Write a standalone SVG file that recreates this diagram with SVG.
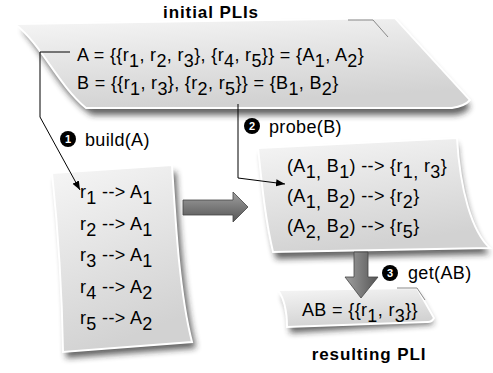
<svg xmlns="http://www.w3.org/2000/svg" width="493" height="373" viewBox="0 0 493 373">
<defs>
<linearGradient id="paper" x1="0" y1="0" x2="0.3" y2="1">
<stop offset="0" stop-color="#f6f6f6"/>
<stop offset="1" stop-color="#d2d2d2"/>
</linearGradient>
<linearGradient id="arrowG" x1="0" y1="0" x2="0" y2="1">
<stop offset="0" stop-color="#a0a0a0"/>
<stop offset="1" stop-color="#555"/>
</linearGradient>
<linearGradient id="arrowV" x1="0" y1="0" x2="1" y2="0">
<stop offset="0" stop-color="#a0a0a0"/>
<stop offset="1" stop-color="#555"/>
</linearGradient>
<filter id="sh" x="-10%" y="-10%" width="120%" height="130%">
<feGaussianBlur stdDeviation="3"/>
</filter>
<marker id="ah" viewBox="0 0 10 10" refX="10" refY="5" markerWidth="9" markerHeight="9" orient="auto" markerUnits="userSpaceOnUse">
<path d="M0,1 L10,5 L0,9 Z" fill="#000"/>
</marker>
</defs>
<style>
.t{font-family:"Liberation Sans",Arial,sans-serif;font-size:18px;letter-spacing:0.35px;fill:#000}
.b{font-family:"Liberation Sans",Arial,sans-serif;font-size:17px;font-weight:bold;letter-spacing:0.9px;fill:#000}
.n{font-family:"Liberation Sans",Arial,sans-serif;font-size:11px;font-weight:bold;fill:#fff}
.paper{fill:url(#paper);stroke:#fff;stroke-width:2}
.shadow{fill:#222;opacity:0.7;filter:url(#sh)}
.con{fill:none;stroke:#000;stroke-width:1}
.fold{fill:none;stroke:#888;stroke-width:1}
</style>

<g id="initial">
<path class="shadow" d="M22,30 L395,24 L470,106 Q468,113 455,115 L92,115 C62,95 45,55 22,30 Z"/>
<path class="paper" d="M15,24 L395,18 L470,100 Q465,106 452,108 L86,108 C58,85 42,45 15,24 Z"/>
<path class="fold" d="M348,20 L373,20 L388,37"/>
<text class="b" x="211" y="18" text-anchor="middle">initial PLIs</text>
<text class="t" x="77" y="61">A = {{r<tspan dy="6">1</tspan><tspan dy="-6">, r</tspan><tspan dy="6">2</tspan><tspan dy="-6">, r</tspan><tspan dy="6">3</tspan><tspan dy="-6">}, {r</tspan><tspan dy="6">4</tspan><tspan dy="-6">, r</tspan><tspan dy="6">5</tspan><tspan dy="-6">}} = {A</tspan><tspan dy="6">1</tspan><tspan dy="-6">, A</tspan><tspan dy="6">2</tspan><tspan dy="-6">}</tspan></text>
<text class="t" x="77" y="89">B = {{r<tspan dy="6">1</tspan><tspan dy="-6">, r</tspan><tspan dy="6">3</tspan><tspan dy="-6">}, {r</tspan><tspan dy="6">2</tspan><tspan dy="-6">, r</tspan><tspan dy="6">5</tspan><tspan dy="-6">}} = {B</tspan><tspan dy="6">1</tspan><tspan dy="-6">, B</tspan><tspan dy="6">2</tspan><tspan dy="-6">}</tspan></text>
</g>

<g id="hash">
<path class="shadow" d="M56,180 L176,172 C180,240 185,300 196,348 L66,358 C66,300 62,240 56,180 Z"/>
<path class="paper" d="M52,173 L172,165 C176,230 180,295 192,342 L63,352 C62,290 58,230 52,173 Z"/>
<text class="t" x="80" y="198">r<tspan dy="6">1</tspan><tspan dy="-6"> --&gt; A</tspan><tspan dy="6">1</tspan></text>
<text class="t" x="80" y="229.5">r<tspan dy="6">2</tspan><tspan dy="-6"> --&gt; A</tspan><tspan dy="6">1</tspan></text>
<text class="t" x="80" y="261">r<tspan dy="6">3</tspan><tspan dy="-6"> --&gt; A</tspan><tspan dy="6">1</tspan></text>
<text class="t" x="80" y="292.5">r<tspan dy="6">4</tspan><tspan dy="-6"> --&gt; A</tspan><tspan dy="6">2</tspan></text>
<text class="t" x="80" y="324">r<tspan dy="6">5</tspan><tspan dy="-6"> --&gt; A</tspan><tspan dy="6">2</tspan></text>
</g>

<g id="probe">
<path class="shadow" d="M262,154 L457,144 C462,200 475,240 490,254 L276,259 C268,225 266,190 262,154 Z"/>
<path class="paper" d="M258,148 L457,138 C460,190 472,232 490,248 L273,252 C265,218 262,185 258,148 Z"/>
<text class="t" x="287" y="172">(A<tspan dy="6">1,</tspan><tspan dy="-6"> B</tspan><tspan dy="6">1</tspan><tspan dy="-6">) --&gt; {r</tspan><tspan dy="6">1, </tspan><tspan dy="-6">r</tspan><tspan dy="6">3</tspan><tspan dy="-6">}</tspan></text>
<text class="t" x="287" y="202">(A<tspan dy="6">1,</tspan><tspan dy="-6"> B</tspan><tspan dy="6">2</tspan><tspan dy="-6">) --&gt; {r</tspan><tspan dy="6">2</tspan><tspan dy="-6">}</tspan></text>
<text class="t" x="287" y="232">(A<tspan dy="6">2,</tspan><tspan dy="-6"> B</tspan><tspan dy="6">2</tspan><tspan dy="-6">) --&gt; {r</tspan><tspan dy="6">5</tspan><tspan dy="-6">}</tspan></text>
</g>

<g id="result">
<path class="shadow" d="M282,296 L417,294 L434,324 L290,333 C290,318 288,306 282,296 Z"/>
<path class="paper" d="M278,290 L417,288 L434,318 Q432,322 428,322 L287,327 C287,312 285,300 278,290 Z"/>
<path class="fold" d="M397,288 L417,288 L425,300"/>
<text class="t" x="302" y="316">AB = {{r<tspan dy="6">1</tspan><tspan dy="-6">, r</tspan><tspan dy="6">3</tspan><tspan dy="-6">}}</tspan></text>
<text class="b" x="369" y="360" text-anchor="middle">resulting PLI</text>
</g>

<g id="connectors">
<path class="con" d="M70,52 L40,52 L40,117 L80,190" marker-end="url(#ah)"/>
<path class="con" d="M238,104 L238,178 L285,184" marker-end="url(#ah)"/>
<path d="M183,200 L233,200 L233,192 L248,207 L233,222 L233,215 L183,215 Z" fill="url(#arrowG)" stroke="#444" stroke-width="0.8"/>
<path d="M354,252 L368,252 L368,277 L378,277 L361,298 L345,277 L354,277 Z" fill="url(#arrowV)" stroke="#444" stroke-width="0.8"/>
<circle cx="68" cy="139" r="8"/>
<text class="n" x="68" y="143" text-anchor="middle">1</text>
<text class="t" x="85" y="146">build(A)</text>
<circle cx="252" cy="126" r="8"/>
<text class="n" x="252" y="130" text-anchor="middle">2</text>
<text class="t" x="269" y="133">probe(B)</text>
<circle cx="390" cy="273" r="8"/>
<text class="n" x="390" y="277" text-anchor="middle">3</text>
<text class="t" x="408" y="279">get(AB)</text>
</g>
</svg>
